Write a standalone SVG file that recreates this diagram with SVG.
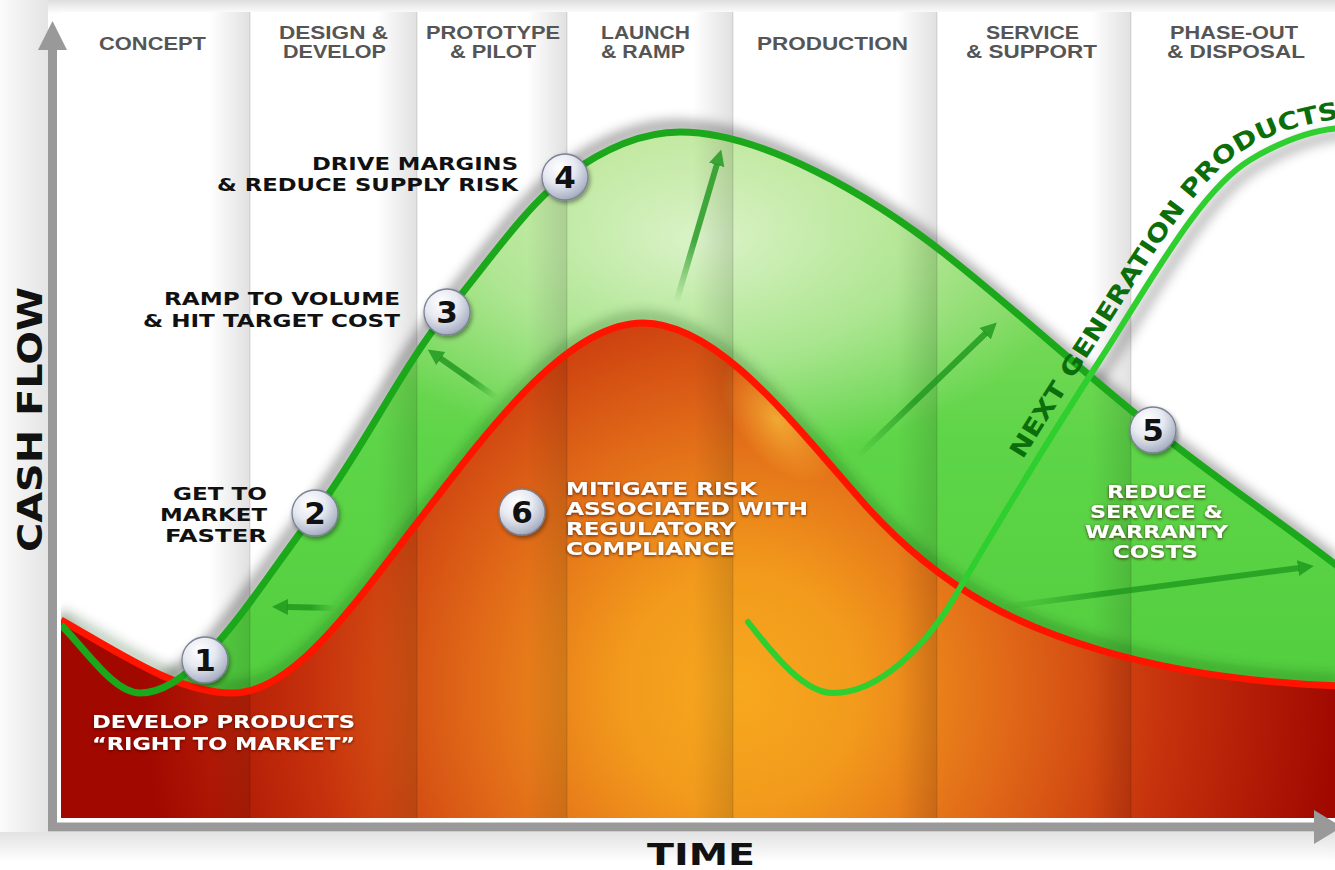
<svg xmlns="http://www.w3.org/2000/svg" width="1335" height="870" viewBox="0 0 1335 870">
<defs>
<style>
.hdr{font-family:"Liberation Sans",Arial,sans-serif;font-weight:bold;font-size:19px;fill:#555}
.lbl{font-family:"DejaVu Sans","Liberation Sans",sans-serif;font-weight:bold;font-size:18px;fill:#111}
.wl{font-family:"DejaVu Sans","Liberation Sans",sans-serif;font-weight:bold;font-size:18px;fill:#fff;filter:url(#tsh)}
.num{font-family:"DejaVu Sans","Liberation Sans",sans-serif;font-weight:bold;font-size:31px;fill:#111;text-anchor:middle}
.ax{font-family:"DejaVu Sans","Liberation Sans",sans-serif;font-weight:bold;fill:#111}
.ball{fill:url(#ballG);stroke:#7a8294;stroke-width:1.3;filter:url(#dsh)}
.sep{stroke:#000;stroke-opacity:0.13;stroke-width:1}
.shade{fill:url(#colShade)}
.arr{fill:none;stroke-width:6;marker-end:url(#ah)}
</style>
<linearGradient id="bgTop" x1="0" y1="0" x2="0" y2="1"><stop offset="0" stop-color="#dedede"/><stop offset="1" stop-color="#fff"/></linearGradient>
<linearGradient id="bgLeft" x1="0" y1="0" x2="1" y2="0"><stop offset="0" stop-color="#fbfbfb"/><stop offset="1" stop-color="#e4e4e4"/></linearGradient>
<linearGradient id="bgBot" x1="0" y1="0" x2="0" y2="1"><stop offset="0" stop-color="#e2e2e2"/><stop offset="1" stop-color="#fff"/></linearGradient>
<linearGradient id="colShade" x1="0" y1="0" x2="1" y2="0"><stop offset="0" stop-color="#000" stop-opacity="0"/><stop offset="1" stop-color="#000" stop-opacity="0.12"/></linearGradient>
<linearGradient id="greenBase" gradientUnits="userSpaceOnUse" x1="0" y1="130" x2="0" y2="818"><stop offset="0" stop-color="#9fdc72"/><stop offset="0.45" stop-color="#5ed548"/><stop offset="1" stop-color="#4ccb3a"/></linearGradient>
<radialGradient id="greenHi" gradientUnits="userSpaceOnUse" cx="700" cy="240" r="320" gradientTransform="translate(700 240) scale(1.2 0.7) translate(-700 -240)"><stop offset="0" stop-color="#f0f9e2" stop-opacity="0.8"/><stop offset="0.55" stop-color="#e0f3c8" stop-opacity="0.5"/><stop offset="1" stop-color="#d8f0c0" stop-opacity="0"/></radialGradient>
<radialGradient id="redG" gradientUnits="userSpaceOnUse" cx="740" cy="690" r="600"><stop offset="0" stop-color="#f7a81e"/><stop offset="0.2" stop-color="#f29a1c"/><stop offset="0.45" stop-color="#e06818"/><stop offset="0.72" stop-color="#c5300c"/><stop offset="1" stop-color="#a00800"/></radialGradient>
<radialGradient id="yelHi" cx="0.5" cy="0.5" r="0.5"><stop offset="0" stop-color="#ffe04a" stop-opacity="0.55"/><stop offset="1" stop-color="#ffd040" stop-opacity="0"/></radialGradient>
<radialGradient id="ballG" cx="0.38" cy="0.3" r="0.78"><stop offset="0" stop-color="#ffffff"/><stop offset="0.45" stop-color="#e6e9f1"/><stop offset="0.85" stop-color="#aeb5c7"/><stop offset="1" stop-color="#8c93a6"/></radialGradient>
<filter id="blur" x="-10%" y="-10%" width="120%" height="120%"><feGaussianBlur stdDeviation="6"/></filter>
<filter id="dsh" x="-30%" y="-30%" width="160%" height="160%"><feDropShadow dx="1.5" dy="2.5" stdDeviation="2" flood-color="#000" flood-opacity="0.4"/></filter>
<filter id="tsh" x="-10%" y="-30%" width="120%" height="160%"><feDropShadow dx="0" dy="1" stdDeviation="1.6" flood-color="#3a0800" flood-opacity="0.8"/></filter>
<clipPath id="plot"><rect x="61" y="0" width="1274" height="818"/></clipPath>
<clipPath id="redClip"><path d="M61,620 C118,652 176,693 233,693 C294,693 356,602 417,523 C492,425 568,323 643,323 C718,323 792,422 867,507 C945,593 1022,627 1100,650 C1180,674 1260,683 1340,686 L1340,818 L61,818 Z"/></clipPath>
<marker id="ah" markerUnits="userSpaceOnUse" markerWidth="18" markerHeight="18" refX="1" refY="8" orient="auto"><path d="M0,0 L16,8 L0,16 Z" fill="#1c961c" fill-opacity="0.8"/></marker>
<linearGradient id="a1" gradientUnits="userSpaceOnUse" x1="335" y1="608" x2="287" y2="607"><stop offset="0" stop-color="#1c961c" stop-opacity="0"/><stop offset="0.5" stop-color="#1c961c" stop-opacity="0.8"/></linearGradient>
<linearGradient id="a2" gradientUnits="userSpaceOnUse" x1="497" y1="398" x2="440" y2="358"><stop offset="0" stop-color="#1c961c" stop-opacity="0"/><stop offset="0.5" stop-color="#1c961c" stop-opacity="0.8"/></linearGradient>
<linearGradient id="a3" gradientUnits="userSpaceOnUse" x1="676" y1="303" x2="717" y2="163"><stop offset="0" stop-color="#1c961c" stop-opacity="0"/><stop offset="0.45" stop-color="#1c961c" stop-opacity="0.8"/></linearGradient>
<linearGradient id="a4" gradientUnits="userSpaceOnUse" x1="857" y1="457" x2="986" y2="333"><stop offset="0" stop-color="#1c961c" stop-opacity="0"/><stop offset="0.45" stop-color="#1c961c" stop-opacity="0.8"/></linearGradient>
<linearGradient id="a5" gradientUnits="userSpaceOnUse" x1="1003" y1="607" x2="1299" y2="568"><stop offset="0" stop-color="#1c961c" stop-opacity="0"/><stop offset="0.35" stop-color="#1c961c" stop-opacity="0.75"/></linearGradient>
<path id="tp" d="M947,587 C995,505 1042,427 1090,353 C1140,277 1194,180 1244,150 C1276,131 1310,118 1420,110"/>
</defs>

<!-- background -->
<g id="background">
<rect x="0" y="0" width="1335" height="870" fill="#fff"/>
<rect x="0" y="0" width="1335" height="14" fill="url(#bgTop)"/>
<rect x="0" y="0" width="48" height="832" fill="url(#bgLeft)"/>
<rect x="0" y="832" width="1335" height="30" fill="url(#bgBot)"/>
<rect x="61" y="12" width="1274" height="806" fill="#fff"/>
</g>

<!-- plot areas -->
<g id="plot-areas" clip-path="url(#plot)">
<path d="M61,625 C87,651 114,693 140,693 C198,693 257,588 315,513 C359,456 403,365 447,312 C486,265 526,206 565,177 C603,149 642,132 680,132 C760,132 870,194 950,258 C1018,312 1085,374 1153,428 C1215,478 1278,520 1340,568" fill="none" stroke="#000" stroke-opacity="0.35" stroke-width="12" filter="url(#blur)" transform="translate(-4 -6)"/>
<path d="M748,622 C776,658 805,693 833,693 C880,693 927,645 957,593 C1005,511 1052,434 1100,360 C1150,283 1200,190 1250,160 C1280,142 1310,130 1340,128" fill="none" stroke="#000" stroke-opacity="0.28" stroke-width="10" filter="url(#blur)" transform="translate(7 6)"/>
<path d="M61,625 C87,651 114,693 140,693 C198,693 257,588 315,513 C359,456 403,365 447,312 C486,265 526,206 565,177 C603,149 642,132 680,132 C760,132 870,194 950,258 C1018,312 1085,374 1153,428 C1215,478 1278,520 1340,568 L1340,818 L61,818 Z" fill="url(#greenBase)"/>
<path d="M61,625 C87,651 114,693 140,693 C198,693 257,588 315,513 C359,456 403,365 447,312 C486,265 526,206 565,177 C603,149 642,132 680,132 C760,132 870,194 950,258 C1018,312 1085,374 1153,428 C1215,478 1278,520 1340,568 L1340,818 L61,818 Z" fill="url(#greenHi)"/>
<path d="M61,620 C118,652 176,693 233,693 C294,693 356,602 417,523 C492,425 568,323 643,323 C718,323 792,422 867,507 C945,593 1022,627 1100,650 C1180,674 1260,683 1340,686" fill="none" stroke="#0a3a00" stroke-opacity="0.3" stroke-width="10" filter="url(#blur)" transform="translate(0 -6)"/>
<path d="M61,620 C118,652 176,693 233,693 C294,693 356,602 417,523 C492,425 568,323 643,323 C718,323 792,422 867,507 C945,593 1022,627 1100,650 C1180,674 1260,683 1340,686 L1340,818 L61,818 Z" fill="url(#redG)"/>
<g clip-path="url(#redClip)">
<ellipse cx="778" cy="420" rx="40" ry="75" fill="url(#yelHi)" transform="rotate(-40 778 420)"/>
</g>
<!-- column shading -->
<rect class="shade" x="210" y="12" width="40" height="806"/>
<rect class="shade" x="377" y="12" width="40" height="806"/>
<rect class="shade" x="527" y="12" width="40" height="806"/>
<rect class="shade" x="693" y="12" width="40" height="806"/>
<rect class="shade" x="897" y="12" width="40" height="806"/>
<rect class="shade" x="1091" y="12" width="40" height="806"/>
<line class="sep" x1="250" y1="12" x2="250" y2="818"/>
<line class="sep" x1="417" y1="12" x2="417" y2="818"/>
<line class="sep" x1="567" y1="12" x2="567" y2="818"/>
<line class="sep" x1="733" y1="12" x2="733" y2="818"/>
<line class="sep" x1="937" y1="12" x2="937" y2="818"/>
<line class="sep" x1="1131" y1="12" x2="1131" y2="818"/>
</g>

<!-- column headers -->
<g id="headers">
<text class="hdr" x="99" y="50" textLength="107" lengthAdjust="spacingAndGlyphs">CONCEPT</text>
<text class="hdr" x="279" y="39" textLength="109" lengthAdjust="spacingAndGlyphs">DESIGN &amp;</text>
<text class="hdr" x="283" y="58" textLength="103" lengthAdjust="spacingAndGlyphs">DEVELOP</text>
<text class="hdr" x="426" y="39" textLength="134" lengthAdjust="spacingAndGlyphs">PROTOTYPE</text>
<text class="hdr" x="450" y="58" textLength="86" lengthAdjust="spacingAndGlyphs">&amp; PILOT</text>
<text class="hdr" x="601" y="39" textLength="89" lengthAdjust="spacingAndGlyphs">LAUNCH</text>
<text class="hdr" x="601" y="58" textLength="84" lengthAdjust="spacingAndGlyphs">&amp; RAMP</text>
<text class="hdr" x="757" y="50" textLength="151" lengthAdjust="spacingAndGlyphs">PRODUCTION</text>
<text class="hdr" x="986" y="39" textLength="93" lengthAdjust="spacingAndGlyphs">SERVICE</text>
<text class="hdr" x="966" y="58" textLength="131" lengthAdjust="spacingAndGlyphs">&amp; SUPPORT</text>
<text class="hdr" x="1170" y="39" textLength="128" lengthAdjust="spacingAndGlyphs">PHASE-OUT</text>
<text class="hdr" x="1167" y="58" textLength="138" lengthAdjust="spacingAndGlyphs">&amp; DISPOSAL</text>
</g>

<!-- axes -->
<g id="axes">
<line x1="52.5" y1="44" x2="52.5" y2="831" stroke="#999" stroke-width="9"/>
<polygon points="52.5,21 38,50 67,50" fill="#999"/>
<line x1="48" y1="827" x2="1318" y2="827" stroke="#999" stroke-width="9"/>
<polygon points="1314,810 1342,827 1314,844" fill="#999"/>
<text class="ax" font-size="34" transform="translate(42 552) rotate(-90)" textLength="265" lengthAdjust="spacingAndGlyphs">CASH FLOW</text>
<text class="ax" font-size="30" x="647" y="865" textLength="108" lengthAdjust="spacingAndGlyphs">TIME</text>
</g>

<!-- curves -->
<g id="curves" clip-path="url(#plot)">
<path id="cost-curve" d="M61,620 C118,652 176,693 233,693 C294,693 356,602 417,523 C492,425 568,323 643,323 C718,323 792,422 867,507 C945,593 1022,627 1100,650 C1180,674 1260,683 1340,686" fill="none" stroke="#ff1400" stroke-width="7"/>
<path id="revenue-curve" d="M61,625 C87,651 114,693 140,693 C198,693 257,588 315,513 C359,456 403,365 447,312 C486,265 526,206 565,177 C603,149 642,132 680,132 C760,132 870,194 950,258 C1018,312 1085,374 1153,428 C1215,478 1278,520 1340,568" fill="none" stroke="#1ba81b" stroke-width="7"/>
<path id="next-gen-curve" d="M748,622 C776,658 805,693 833,693 C880,693 927,645 957,593 C1005,511 1052,434 1100,360 C1150,283 1200,190 1250,160 C1280,142 1310,130 1340,128" fill="none" stroke="#2fcf2f" stroke-width="6" stroke-linecap="round"/>
</g>
<g id="next-gen-label">
<text font-family="DejaVu Sans,Liberation Sans,sans-serif" font-weight="bold" font-size="24" fill="#0b6e0b"><textPath href="#tp" startOffset="148" textLength="484" lengthAdjust="spacingAndGlyphs">NEXT GENERATION PRODUCTS</textPath></text>
</g>

<!-- connectors (faint arrows) -->
<g id="connectors">
<path class="arr" d="M335,608 L287,607" stroke="url(#a1)"/>
<path class="arr" d="M497,398 L440,358" stroke="url(#a2)"/>
<path class="arr" d="M676,303 L717,164" stroke="url(#a3)"/>
<path class="arr" d="M857,457 L986,333" stroke="url(#a4)"/>
<path class="arr" d="M1003,607 L1299,568" stroke="url(#a5)"/>
</g>

<!-- nodes -->
<g id="node1">
<circle class="ball" cx="205" cy="660" r="23"/>
<text class="num" x="205" y="671">1</text>
<text class="wl" x="92" y="728" textLength="263" lengthAdjust="spacingAndGlyphs">DEVELOP PRODUCTS</text>
<text class="wl" x="92" y="750" textLength="263" lengthAdjust="spacingAndGlyphs">“RIGHT TO MARKET”</text>
</g>
<g id="node2">
<circle class="ball" cx="315" cy="513" r="23"/>
<text class="num" x="315" y="524">2</text>
<text class="lbl" font-size="17" x="173" y="500" textLength="94" lengthAdjust="spacingAndGlyphs">GET TO</text>
<text class="lbl" font-size="17" x="160" y="521" textLength="107" lengthAdjust="spacingAndGlyphs">MARKET</text>
<text class="lbl" font-size="17" x="165" y="542" textLength="102" lengthAdjust="spacingAndGlyphs">FASTER</text>
</g>
<g id="node3">
<circle class="ball" cx="447" cy="312" r="23"/>
<text class="num" x="447" y="323">3</text>
<text class="lbl" x="164" y="305" textLength="236" lengthAdjust="spacingAndGlyphs">RAMP TO VOLUME</text>
<text class="lbl" x="143" y="327" textLength="257" lengthAdjust="spacingAndGlyphs">&amp; HIT TARGET COST</text>
</g>
<g id="node4">
<circle class="ball" cx="565" cy="177" r="23"/>
<text class="num" x="565" y="188">4</text>
<text class="lbl" x="312" y="170" textLength="206" lengthAdjust="spacingAndGlyphs">DRIVE MARGINS</text>
<text class="lbl" x="217" y="191" textLength="301" lengthAdjust="spacingAndGlyphs">&amp; REDUCE SUPPLY RISK</text>
</g>
<g id="node5">
<circle class="ball" cx="1153" cy="430" r="23"/>
<text class="num" x="1153" y="441">5</text>
<text class="wl" font-size="17" x="1107" y="498" textLength="100" lengthAdjust="spacingAndGlyphs">REDUCE</text>
<text class="wl" font-size="17" x="1090" y="518" textLength="133" lengthAdjust="spacingAndGlyphs">SERVICE &amp;</text>
<text class="wl" font-size="17" x="1085" y="538" textLength="143" lengthAdjust="spacingAndGlyphs">WARRANTY</text>
<text class="wl" font-size="17" x="1113" y="558" textLength="85" lengthAdjust="spacingAndGlyphs">COSTS</text>
</g>
<g id="node6">
<circle class="ball" cx="522" cy="512" r="23"/>
<text class="num" x="522" y="523">6</text>
<text class="wl" x="566" y="495" textLength="191" lengthAdjust="spacingAndGlyphs">MITIGATE RISK</text>
<text class="wl" x="566" y="515" textLength="242" lengthAdjust="spacingAndGlyphs">ASSOCIATED WITH</text>
<text class="wl" x="566" y="535" textLength="170" lengthAdjust="spacingAndGlyphs">REGULATORY</text>
<text class="wl" x="566" y="555" textLength="169" lengthAdjust="spacingAndGlyphs">COMPLIANCE</text>
</g>
</svg>
